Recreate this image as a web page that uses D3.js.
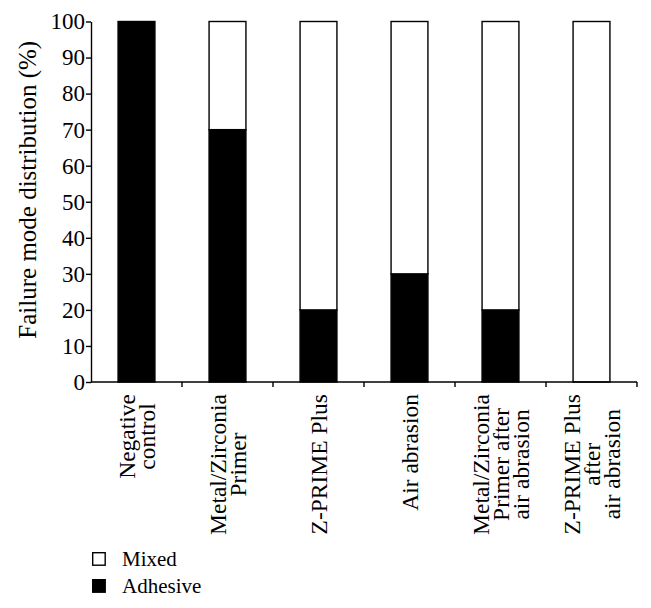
<!DOCTYPE html>
<html>
<head>
<meta charset="utf-8">
<script src="https://cdn.jsdelivr.net/npm/d3@7"></script>
<style>
  body { margin: 0; background: #fff; }
  svg { display: block; }
  text { font-family: "Liberation Serif", "Times New Roman", serif; fill: #000; }
</style>
</head>
<body>
<svg id="chart" width="651" height="608"></svg>
<script>
// groups, each label split in lines as printed
var groups = [
  ["Negative", "control"],
  ["Metal/Zirconia", "Primer"],
  ["Z-PRIME Plus"],
  ["Air abrasion"],
  ["Metal/Zirconia", "Primer after", "air abrasion"],
  ["Z-PRIME Plus", "after", "air abrasion"]
];
var adhesive = [100, 70, 20, 30, 20, 0];
var mixed = [0, 30, 80, 70, 80, 100];
var yTicks = [0, 10, 20, 30, 40, 50, 60, 70, 80, 90, 100];
var seriesNames = ["Mixed", "Adhesive"];
var seriesFill = {"Mixed": "#fff", "Adhesive": "#000"};

var TICK_FONT = 23, LABEL_FONT = 23.5, TITLE_FONT = 25, LEGEND_FONT = 21;
var margin = {top: 21.5, left: 91, right: 14, bottom: 226};
var width = 651 - margin.left - margin.right,
    height = 608 - margin.top - margin.bottom;

var svg = d3.select("#chart");
var g = svg.append("g")
    .attr("transform", "translate(" + margin.left + "," + margin.top + ")");

var x = d3.scaleBand()
    .domain(d3.range(groups.length))
    .range([0, width])
    .padding(0);
var barW = x.bandwidth() * 0.405;

var y = d3.scaleLinear().domain([0, 100]).range([height, 0]);

var rows = groups.map(function(lab, i) {
  return {i: i, adhesive: adhesive[i], mixed: mixed[i]};
});
var stack = d3.stack().keys(["adhesive", "mixed"])(rows);

stack.forEach(function(layer) {
  var name = layer.key == "adhesive" ? "Adhesive" : "Mixed";
  g.selectAll(".bar-" + layer.key)
    .data(layer.filter(function(d) { return d[1] - d[0] > 0; }))
    .enter().append("rect")
      .attr("x", function(d) { return x(d.data.i) + (x.bandwidth() - barW) / 2; })
      .attr("y", function(d) { return y(d[1]); })
      .attr("width", barW)
      .attr("height", function(d) { return y(d[0]) - y(d[1]); })
      .attr("fill", seriesFill[name])
      .attr("stroke", "#000")
      .attr("stroke-width", 1.4);
});

// y axis
var yAxis = g.append("g")
    .call(d3.axisLeft(y).tickValues(yTicks).tickSize(5).tickPadding(1).tickSizeOuter(0));
yAxis.select(".domain").attr("stroke-width", 1.4);
yAxis.selectAll(".tick line").attr("stroke-width", 1.4);
yAxis.selectAll("text").style("font-size", TICK_FONT + "px").attr("font-family", null);

// x axis: ticks on group boundaries
var xAxis = g.append("g").attr("transform", "translate(0," + height + ")");
xAxis.append("line")
    .attr("x1", 0).attr("x2", width)
    .attr("stroke", "#000").attr("stroke-width", 1.4);
xAxis.selectAll(".xt")
    .data(d3.range(1, groups.length + 1))
    .enter().append("line")
      .attr("x1", function(d) { return x.step() * d; })
      .attr("x2", function(d) { return x.step() * d; })
      .attr("y1", 0).attr("y2", 5)
      .attr("stroke", "#000").attr("stroke-width", 1.4);

var lineGap = 20;
groups.forEach(function(lines, i) {
  var lg = xAxis.append("g");
  var t = lg.selectAll("text").data(lines).enter().append("text")
      .attr("text-anchor", "middle")
      .attr("y", function(d, k) { return (k - (lines.length - 1) / 2) * lineGap; })
      .attr("dy", "0.35em")
      .style("font-size", LABEL_FONT + "px")
      .text(function(d) { return d; });
  var maxLen = d3.max(t.nodes(), function(n) { return n.getComputedTextLength(); });
  var cx = x(i) + x.bandwidth() / 2;
  lg.attr("transform", "translate(" + cx + "," + (12 + maxLen / 2) + ") rotate(-90)");
});

// y title
svg.append("text")
    .attr("transform", "translate(36," + (margin.top + height / 2 - 12) + ") rotate(-90)")
    .attr("text-anchor", "middle")
    .style("font-size", TITLE_FONT + "px")
    .text("Failure mode distribution (%)");

// legend
var leg = svg.append("g").attr("transform", "translate(92,552)");
seriesNames.forEach(function(name, k) {
  var row = leg.append("g").attr("transform", "translate(0," + (k * 27) + ")");
  row.append("rect")
      .attr("x", 0.7).attr("y", 0.7)
      .attr("width", 12.5).attr("height", 12.5)
      .attr("fill", seriesFill[name])
      .attr("stroke", "#000").attr("stroke-width", 1.4);
  row.append("text")
      .attr("x", 30).attr("y", 13.5)
      .style("font-size", LEGEND_FONT + "px")
      .text(name);
});
</script>
</body>
</html>
